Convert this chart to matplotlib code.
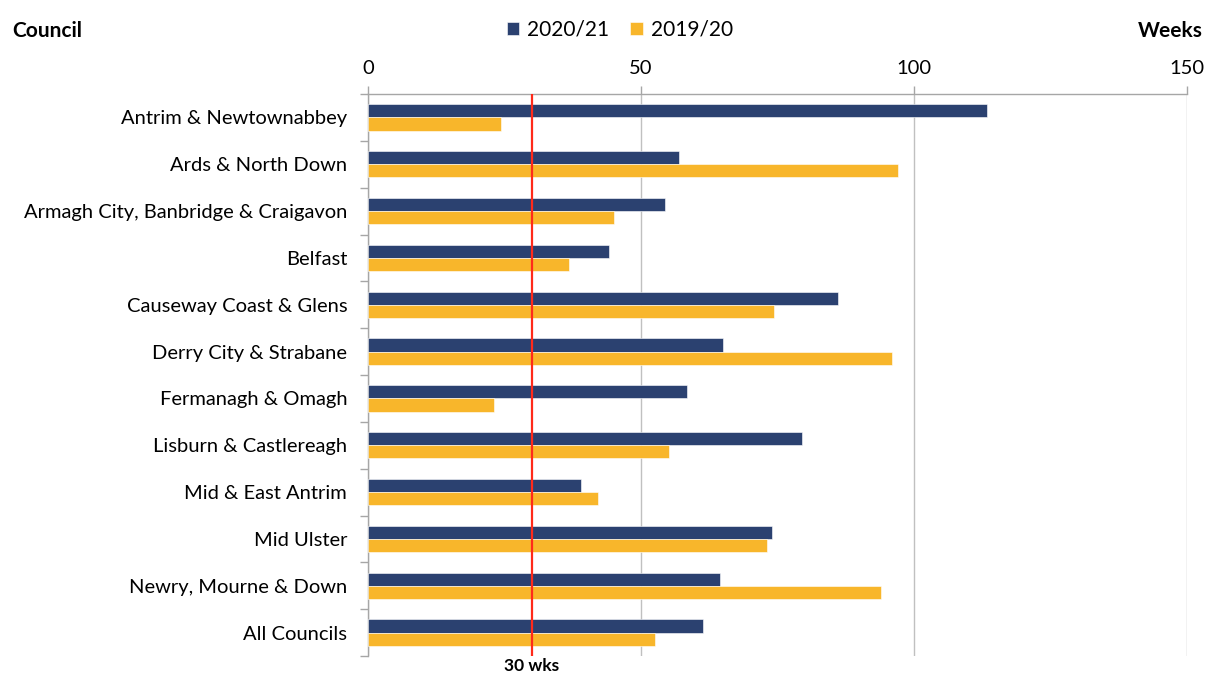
import matplotlib.pyplot as plt
import numpy as np

plt.rcParams['font.family'] = ['Lato', 'DejaVu Sans']

councils = ['Antrim & Newtownabbey', 'Ards & North Down',
            'Armagh City, Banbridge & Craigavon', 'Belfast',
            'Causeway Coast & Glens', 'Derry City & Strabane',
            'Fermanagh & Omagh', 'Lisburn & Castlereagh',
            'Mid & East Antrim', 'Mid Ulster', 'Newry, Mourne & Down',
            'All Councils']
weeks_2021 = [113.4, 57.0, 54.4, 44.1, 86.1, 65.0, 58.4, 79.5, 39.0, 74.0, 64.5, 61.4]
weeks_1920 = [24.4, 97.1, 45.1, 36.8, 74.4, 96.0, 23.1, 55.1, 42.1, 73.1, 94.0, 52.6]
target = 30

navy = '#2b4170'
orange = '#f8b62b'
grey = '#a6a6a6'

fig = plt.figure(figsize=(12.05, 6.79), dpi=100)
ax = fig.add_axes([368 / 1205, 1 - 656 / 679, (1187 - 368) / 1205, (656 - 94) / 679])

y = np.arange(len(councils))
h = 0.28
ax.barh(y - h / 2, weeks_2021, height=h, color=navy, label='2020/21',
        edgecolor='white', linewidth=0.4, zorder=3)
ax.barh(y + h / 2, weeks_1920, height=h, color=orange, label='2019/20',
        edgecolor='white', linewidth=0.4, zorder=3)
ax.axvline(target, color='#ff2a1a', linewidth=1.6, zorder=4)

ax.set_xlim(0, 150)
ax.set_ylim(len(councils) - 0.5, -0.5)
ax.xaxis.tick_top()
ax.set_xticks([0, 50, 100, 150])
ax.set_yticks(y)
ax.set_yticklabels(councils)
ax.set_yticks(np.arange(-0.5, len(councils)), minor=True)
ax.tick_params(axis='y', which='major', length=0, pad=15, labelsize=14.5)
ax.tick_params(axis='y', which='minor', length=6, color=grey, width=1)
ax.tick_params(axis='x', length=6, color=grey, width=1, pad=6, labelsize=14.5)
ax.grid(axis='x', color='#c0c0c0', linewidth=1, zorder=0)

for s in ['right', 'bottom']:
    ax.spines[s].set_visible(False)
for s in ['top', 'left']:
    ax.spines[s].set_color(grey)
    ax.spines[s].set_linewidth(1)

fig.text(12 / 1205, 1 - 31 / 679, 'Council', fontsize=15, fontweight='bold', va='center')
fig.text(1203 / 1205, 1 - 31 / 679, 'Weeks', fontsize=15, fontweight='bold', va='center', ha='right')
ax.text(target, -0.004, '30 wks', transform=ax.get_xaxis_transform(), ha='center',
        va='top', fontsize=12.5, fontweight='bold')

fig.legend(loc='center', bbox_to_anchor=(620 / 1205, 1 - 30 / 679), ncol=2, frameon=False,
           fontsize=15, handlelength=0.6, handleheight=0.6, columnspacing=1.0, handletextpad=0.4)

fig.savefig('out.png', dpi=100)
